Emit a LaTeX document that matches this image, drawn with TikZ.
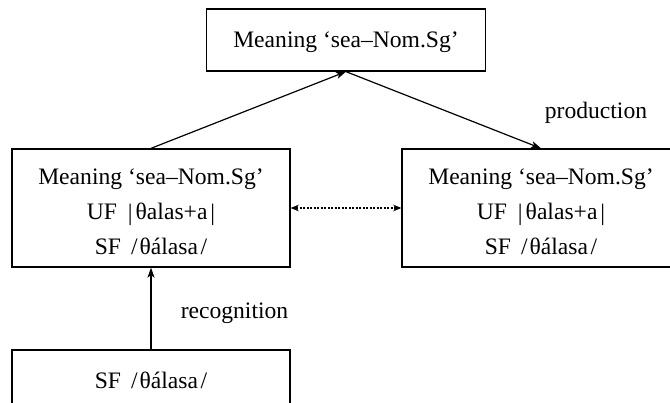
\documentclass[tikz,border=0pt]{standalone}
\usepackage{fontspec}
\setmainfont{Liberation Serif}
\usetikzlibrary{arrows.meta}
\newcommand{\ufline}{UF\hspace{11pt}\raisebox{-1pt}{|}\hspace{3pt}θalas+a\hspace{3pt}\raisebox{-1pt}{|}}
\newcommand{\sfline}{SF\hspace{10pt}/\hspace{2pt}θálasa\hspace{2.5pt}/}
\begin{document}
\begin{tikzpicture}[x=1pt,y=-1pt,
  box/.style={draw,line width=1.3pt,rectangle,align=center,inner sep=0pt,
    font=\fontsize{23.6}{35}\selectfont,text height=16pt,text depth=0pt},
  bigbox/.style={box,minimum width=278pt,minimum height=118pt,text height=94pt},
  smallbox/.style={box,minimum width=279pt,minimum height=62pt},
  lbl/.style={font=\fontsize{23.6}{28}\selectfont,inner sep=0pt},
  arr/.style={line width=1.2pt,-{Stealth[length=10pt,width=7pt,inset=2.5pt]}},
  darr/.style={line width=1.2pt,dash pattern=on 2pt off 1.5pt,
    {Stealth[length=8pt,width=6.5pt,inset=2pt]}-{Stealth[length=8pt,width=6.5pt,inset=2pt]}}
]
\clip (0,0) rectangle (670,403);
\fill[white] (0,0) rectangle (670,403);
\node[smallbox] (T) at (346,40) {Meaning ‘sea–Nom.Sg’};
\node[bigbox] (L) at (151,208) {Meaning ‘sea–Nom.Sg’\\\ufline\\\sfline};
\node[bigbox] (R) at (541,208) {Meaning ‘sea–Nom.Sg’\\\ufline\\\sfline};
\node[smallbox,minimum width=278pt] (B) at (151,381) {\sfline};
\draw[arr] (L.north) -- (T.south);
\draw[arr] (T.south) -- (R.north);
\draw[arr] (B.north) -- (L.south);
\draw[darr] (L.east) -- (R.west);
\node[lbl] (prod) at (596,113) {production};
\node[lbl] (rec) at (234.5,313) {recognition};
\end{tikzpicture}
\end{document}
